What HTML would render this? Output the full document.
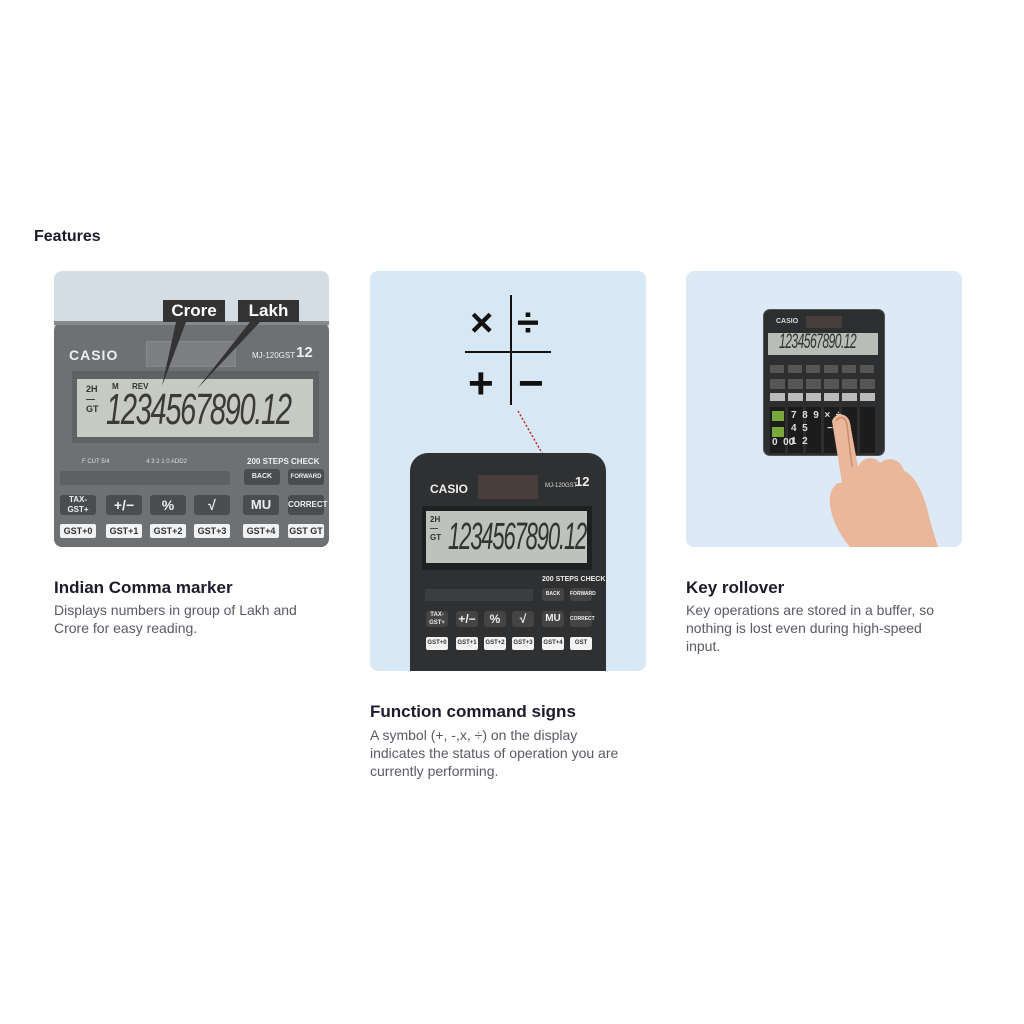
<!DOCTYPE html>
<html><head><meta charset="utf-8"><style>
*{margin:0;padding:0;box-sizing:border-box}
body{width:1024px;height:1024px;background:#fff;position:relative;font-family:"Liberation Sans",sans-serif;overflow:hidden}
.a{position:absolute}
.card{position:absolute;border-radius:8px;overflow:hidden}
h3{position:absolute;font-size:17px;font-weight:bold;color:#1b1b2b}
p.t{position:absolute;font-size:14px;color:#5a5a66;line-height:18px}
.btn{position:absolute;background:#4a4d50;border-radius:3px;color:#eee;font-size:12px;text-align:center;font-weight:bold}
.wb{position:absolute;background:#f2f2f2;border-radius:2px;color:#333;font-size:9px;text-align:center;font-weight:bold}
</style></head><body>
<div class="a" style="left:34px;top:228px;font-size:16px;font-weight:bold;color:#1b1b2b">Features</div>

<!-- Card 1 -->
<div class="card" style="left:54px;top:271px;width:275px;height:276px;background:#d3dde3">
  <div class="a" style="left:0;top:50px;width:275px;height:226px;background:#6e7174;border-radius:10px 10px 0 0"></div>
  <div class="a" style="left:0;top:50px;width:275px;height:4px;background:#85898b"></div>
  <div class="a" style="left:15px;top:76px;color:#eee;font-size:14px;font-weight:bold;letter-spacing:1px">CASIO</div>
  <div class="a" style="left:92px;top:70px;width:90px;height:26px;background:#7d7f82;border:1px solid #888"></div>
  <div class="a" style="left:198px;top:80px;color:#eee;font-size:8px">MJ-120GST</div>
  <div class="a" style="left:242px;top:73px;color:#eee;font-size:15px;font-weight:bold">12</div>
  <div class="a" style="left:18px;top:100px;width:247px;height:72px;background:#5f6265"></div>
  <div class="a" style="left:23px;top:108px;width:236px;height:58px;background:#c6cac3"></div>
  <div class="a" style="left:32px;top:113px;color:#333;font-size:9px;font-weight:bold">2H<br>—<br>GT</div>
  <div class="a" style="left:58px;top:111px;color:#333;font-size:8px;font-weight:bold">M &nbsp;&nbsp;&nbsp;&nbsp; REV</div>
  <div class="a" style="left:52px;top:114px;color:#3a3a3a;font-size:44px;font-style:italic;letter-spacing:-2px;transform:scaleX(0.66);transform-origin:left">1234567890.12</div>
  <div class="a" style="left:109px;top:29px;width:62px;height:22px;background:#333;color:#fff;font-size:17px;font-weight:bold;text-align:center;line-height:22px">Crore</div>
  <div class="a" style="left:184px;top:29px;width:61px;height:22px;background:#333;color:#fff;font-size:17px;font-weight:bold;text-align:center;line-height:22px">Lakh</div>
  <svg class="a" style="left:0;top:0" width="275" height="276"><polygon points="122,51 132,51 108,115" fill="#333"/><polygon points="196,51 206,51 143,118" fill="#333"/></svg>
  <div class="a" style="left:28px;top:188px;color:#ddd;font-size:6px">F CUT 5/4 &nbsp;&nbsp;&nbsp;&nbsp;&nbsp;&nbsp;&nbsp;&nbsp;&nbsp;&nbsp;&nbsp;&nbsp;&nbsp;&nbsp;&nbsp;&nbsp;&nbsp;&nbsp;&nbsp;&nbsp; 4 3 2 1 0 ADD2</div>
  <div class="a" style="left:193px;top:186px;color:#eee;font-size:8px;font-weight:bold">200 STEPS CHECK</div>
  <div class="a" style="left:6px;top:200px;width:170px;height:14px;background:#5e6163;border-radius:2px"></div>
  <div class="btn" style="left:190px;top:198px;width:36px;height:16px;font-size:7px;line-height:16px">BACK</div>
  <div class="btn" style="left:234px;top:198px;width:36px;height:16px;font-size:6px;line-height:16px">FORWARD</div>
  <div class="btn" style="left:6px;top:224px;width:36px;height:20px;font-size:8px;line-height:10px">TAX-<br>GST+</div>
  <div class="btn" style="left:52px;top:224px;width:36px;height:20px;font-size:14px;line-height:20px">+/−</div>
  <div class="btn" style="left:96px;top:224px;width:36px;height:20px;font-size:14px;line-height:20px">%</div>
  <div class="btn" style="left:140px;top:224px;width:36px;height:20px;font-size:14px;line-height:20px">√</div>
  <div class="btn" style="left:189px;top:224px;width:36px;height:20px;font-size:13px;line-height:20px">MU</div>
  <div class="btn" style="left:234px;top:224px;width:36px;height:20px;font-size:8px;line-height:20px">CORRECT</div>
  <div class="wb" style="left:6px;top:253px;width:36px;height:14px;line-height:14px">GST+0</div>
  <div class="wb" style="left:52px;top:253px;width:36px;height:14px;line-height:14px">GST+1</div>
  <div class="wb" style="left:96px;top:253px;width:36px;height:14px;line-height:14px">GST+2</div>
  <div class="wb" style="left:140px;top:253px;width:36px;height:14px;line-height:14px">GST+3</div>
  <div class="wb" style="left:189px;top:253px;width:36px;height:14px;line-height:14px">GST+4</div>
  <div class="wb" style="left:234px;top:253px;width:36px;height:14px;line-height:14px">GST GT</div>
</div>
<h3 style="left:54px;top:578px">Indian Comma marker</h3>
<p class="t" style="left:54px;top:601px;width:270px">Displays numbers in group of Lakh and Crore for easy reading.</p>

<!-- Card 2 -->
<div class="card" style="left:370px;top:271px;width:276px;height:400px;background:#d7e7f3">
  <div class="a" style="left:140px;top:24px;width:2px;height:110px;background:#111"></div>
  <div class="a" style="left:95px;top:80px;width:86px;height:2px;background:#111"></div>
  <div class="a" style="left:100px;top:30px;font-size:40px;font-weight:bold;color:#111">×</div>
  <div class="a" style="left:147px;top:30px;font-size:40px;font-weight:bold;color:#111">÷</div>
  <div class="a" style="left:98px;top:88px;font-size:44px;font-weight:bold;color:#111">+</div>
  <div class="a" style="left:148px;top:88px;font-size:44px;font-weight:bold;color:#111">−</div>
  <svg class="a" style="left:0;top:0" width="276" height="400"><line x1="148" y1="140" x2="204" y2="238" stroke="#c0272d" stroke-width="1.5" stroke-dasharray="2,2"/><polygon points="204,242 199,232 207,233" fill="#c0272d"/></svg>
  <div class="a" style="left:40px;top:182px;width:196px;height:230px;background:#2f3031;border-radius:18px 18px 0 0"></div>
  <div class="a" style="left:60px;top:211px;color:#eee;font-size:12px;font-weight:bold">CASIO</div>
  <div class="a" style="left:108px;top:204px;width:60px;height:24px;background:#4a3e3c"></div>
  <div class="a" style="left:175px;top:212px;color:#ddd;font-size:6px">MJ-120GST</div>
  <div class="a" style="left:205px;top:203px;color:#eee;font-size:13px;font-weight:bold">12</div>
  <div class="a" style="left:52px;top:235px;width:170px;height:64px;background:#1f2021"></div>
  <div class="a" style="left:56px;top:240px;width:161px;height:52px;background:#bec2bc"></div>
  <div class="a" style="left:60px;top:244px;color:#333;font-size:8px;font-weight:bold">2H<br>—<br>GT</div>
  <div class="a" style="left:78px;top:245px;color:#333;font-size:38px;font-style:italic;letter-spacing:-2px;transform:scaleX(0.58);transform-origin:left">1234567890.12</div>
  <div class="a" style="left:172px;top:305px;color:#eee;font-size:7px;font-weight:bold">200 STEPS CHECK</div>
  <div class="a" style="left:55px;top:318px;width:108px;height:12px;background:#3c3d3e"></div>
  <div class="btn" style="left:172px;top:317px;width:22px;height:13px;font-size:5px;line-height:13px;background:#444">BACK</div>
  <div class="btn" style="left:200px;top:317px;width:22px;height:13px;font-size:5px;line-height:13px;background:#444">FORWARD</div>
  <div class="btn" style="left:56px;top:340px;width:22px;height:16px;font-size:6px;line-height:8px;background:#444">TAX-<br>GST+</div>
  <div class="btn" style="left:86px;top:340px;width:22px;height:16px;background:#444;line-height:16px">+/−</div>
  <div class="btn" style="left:114px;top:340px;width:22px;height:16px;background:#444;line-height:16px">%</div>
  <div class="btn" style="left:142px;top:340px;width:22px;height:16px;background:#444;line-height:16px">√</div>
  <div class="btn" style="left:172px;top:340px;width:22px;height:16px;background:#444;line-height:16px;font-size:10px">MU</div>
  <div class="btn" style="left:200px;top:340px;width:22px;height:16px;background:#444;line-height:16px;font-size:5px">CORRECT</div>
  <div class="wb" style="left:56px;top:366px;width:22px;height:13px;font-size:6px;line-height:13px">GST+0</div>
  <div class="wb" style="left:86px;top:366px;width:22px;height:13px;font-size:6px;line-height:13px">GST+1</div>
  <div class="wb" style="left:114px;top:366px;width:22px;height:13px;font-size:6px;line-height:13px">GST+2</div>
  <div class="wb" style="left:142px;top:366px;width:22px;height:13px;font-size:6px;line-height:13px">GST+3</div>
  <div class="wb" style="left:172px;top:366px;width:22px;height:13px;font-size:6px;line-height:13px">GST+4</div>
  <div class="wb" style="left:200px;top:366px;width:22px;height:13px;font-size:6px;line-height:13px">GST GT</div>
</div>
<h3 style="left:370px;top:702px">Function command signs</h3>
<p class="t" style="left:370px;top:726px;width:262px">A symbol (+, -,x, ÷) on the display indicates the status of operation you are currently performing.</p>

<!-- Card 3 -->
<div class="card" style="left:686px;top:271px;width:276px;height:276px;background:#dde9f5">
  <div class="a" style="left:77px;top:38px;width:122px;height:147px;background:#2d2e2f;border-radius:7px;border:1px solid #555"></div>
  <div class="a" style="left:90px;top:47px;color:#ddd;font-size:7px;font-weight:bold">CASIO</div>
  <div class="a" style="left:120px;top:45px;width:36px;height:12px;background:#4a3e3c"></div>
  <div class="a" style="left:82px;top:62px;width:110px;height:22px;background:#b9bdb7"></div>
  <div class="a" style="left:93px;top:59px;color:#333;font-size:21px;font-style:italic;transform:scaleX(0.58);transform-origin:left;letter-spacing:-1px">1234567890.12</div>
  <div class="a" style="left:84px;top:94px;width:108px;height:8px;background:repeating-linear-gradient(90deg,#555 0 14px,transparent 14px 18px)"></div>
  <div class="a" style="left:84px;top:108px;width:108px;height:10px;background:repeating-linear-gradient(90deg,#555 0 15px,transparent 15px 18px)"></div>
  <div class="a" style="left:84px;top:122px;width:108px;height:8px;background:repeating-linear-gradient(90deg,#bbb 0 15px,transparent 15px 18px)"></div>
  <div class="a" style="left:84px;top:136px;width:108px;height:46px;background:repeating-linear-gradient(90deg,#1c1c1d 0 15px,transparent 15px 18px)"></div>
  <div class="a" style="left:86px;top:140px;width:12px;height:10px;background:#7aa83a"></div>
  <div class="a" style="left:86px;top:156px;width:12px;height:10px;background:#7aa83a"></div>
  <div class="a" style="left:105px;top:138px;color:#ddd;font-size:10px;line-height:13px;font-weight:bold">7 &nbsp;8 &nbsp;9 &nbsp;× &nbsp;÷<br>4 &nbsp;5 &nbsp;&nbsp;&nbsp;&nbsp;&nbsp;&nbsp;− MC<br>1 &nbsp;2 &nbsp;&nbsp;&nbsp;&nbsp;&nbsp;&nbsp;&nbsp;&nbsp;&nbsp; M<br></div>
  <div class="a" style="left:86px;top:166px;color:#ddd;font-size:10px;font-weight:bold">0 &nbsp;00</div>
  <svg class="a" style="left:0;top:0" width="276" height="276">
    <path d="M146,150 C150,140 162,142 164,152 L172,196 C176,186 188,184 194,192 C204,184 216,190 218,200 C230,204 240,228 244,250 L252,276 L164,276 C152,262 146,248 144,234 C142,220 150,210 156,212 Z" fill="#eab79a"/>
    <path d="M150,150 C154,144 160,146 161,154 L166,196" stroke="#c98e72" stroke-width="1.5" fill="none"/>
  </svg>
</div>
<h3 style="left:686px;top:578px">Key rollover</h3>
<p class="t" style="left:686px;top:601px;width:262px">Key operations are stored in a buffer, so nothing is lost even during high-speed input.</p>
</body></html>
